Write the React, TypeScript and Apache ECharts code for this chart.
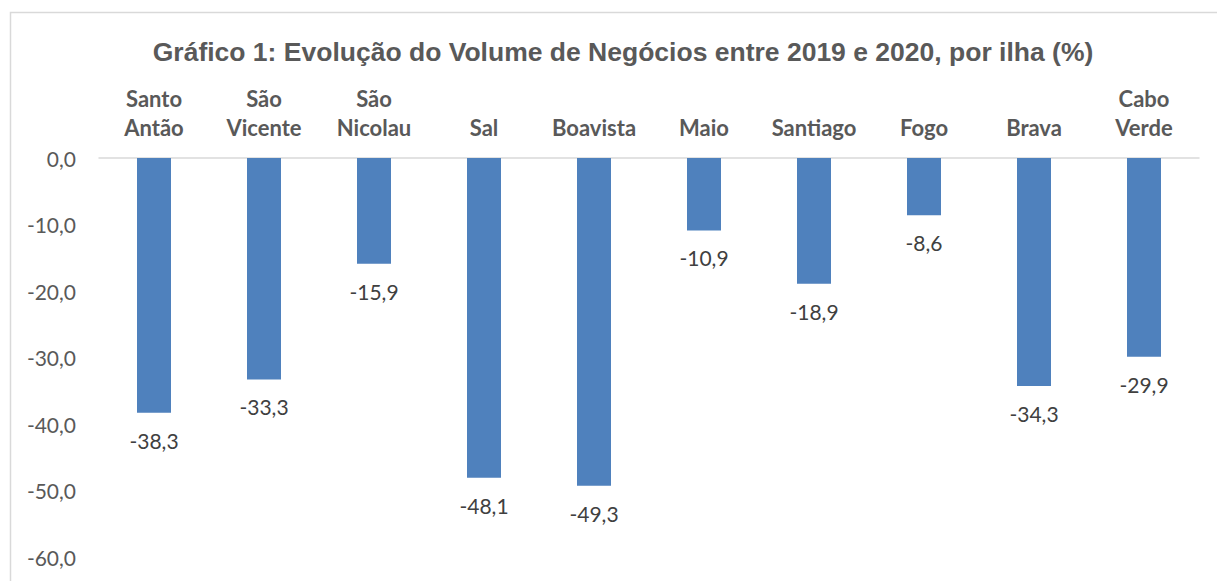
import React, { useEffect, useRef } from "react";
import * as echarts from "echarts";

const categories = ["Santo\nAntão", "São\nVicente", "São\nNicolau", "Sal", "Boavista", "Maio", "Santiago", "Fogo", "Brava", "Cabo\nVerde"];
const values = [-38.3, -33.3, -15.9, -48.1, -49.3, -10.9, -18.9, -8.6, -34.3, -29.9];
const yMin = -60;
const yMax = 0;
const yInterval = 10;
const titleText = "Gráfico 1: Evolução do Volume de Negócios entre 2019 e 2020, por ilha (%)";

const fmt = (v: number) => v.toFixed(1).replace(".", ",");

export default function App() {
  const ref = useRef<HTMLDivElement>(null);
  useEffect(() => {
    if (!ref.current) return;
    const chart = echarts.init(ref.current, undefined, { renderer: "svg" });
    chart.setOption({
      animation: false,
      backgroundColor: "#ffffff",
      title: {
        text: titleText,
        left: 618,
        textAlign: "center",
        top: 33,
        textStyle: {
          fontFamily: "Liberation Sans, Arial, sans-serif",
          fontWeight: "bold",
          fontSize: 26.5,
          color: "#595959",
        },
      },
      graphic: [
        {
          type: "rect",
          shape: { x: 10.5, y: 12.5, width: 1250, height: 650 },
          style: { fill: "none", stroke: "#D9D9D9", lineWidth: 1.5 },
          silent: true,
          z: -1,
        },
      ],
      grid: { left: 99, right: 18, top: 158, bottom: 24, containLabel: false },
      xAxis: {
        type: "category",
        position: "top",
        data: categories,
        axisLine: { show: true, lineStyle: { color: "#D9D9D9", width: 1.5 } },
        axisTick: { show: false },
        axisLabel: {
          interval: 0,
          margin: 16,
          fontFamily: "Lato, Open Sans, sans-serif",
          fontWeight: "bold",
          fontSize: 22,
          lineHeight: 29,
          color: "#595959",
        },
      },
      yAxis: {
        type: "value",
        min: yMin,
        max: yMax,
        interval: yInterval,
        axisLine: { show: false },
        axisTick: { show: false },
        splitLine: { show: false },
        axisLabel: {
          margin: 23,
          formatter: (v: number) => fmt(v),
          fontFamily: "Lato, Open Sans, sans-serif",
          fontSize: 21,
          color: "#595959",
        },
      },
      series: [
        {
          type: "bar",
          data: values,
          barWidth: 34,
          itemStyle: { color: "#4F81BD" },
          label: {
            show: true,
            position: "bottom",
            distance: 17,
            formatter: (p: any) => fmt(p.value),
            fontFamily: "Lato, Open Sans, sans-serif",
            fontSize: 21,
            color: "#404040",
          },
        },
      ],
    });
    return () => chart.dispose();
  }, []);
  return (
    <div
      ref={ref}
      style={{ position: "fixed", left: 0, top: 0, width: 1217, height: 581 }}
    />
  );
}
